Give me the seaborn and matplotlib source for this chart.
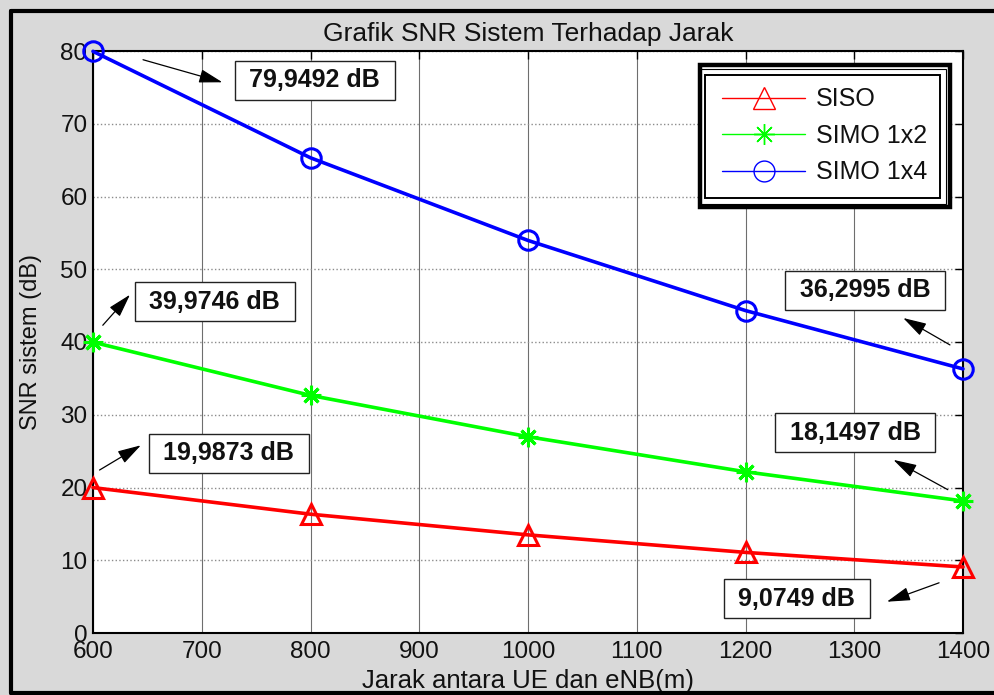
import matplotlib
matplotlib.use("Agg")
import matplotlib.pyplot as plt
from matplotlib.lines import Line2D
from matplotlib.patches import Rectangle
import pandas as pd
import seaborn as sns

# Distance between UE and eNB (m)
jarak = [600, 800, 1000, 1200, 1400]

# System SNR (dB) for each antenna configuration
snr_siso = [19.9873, 16.33, 13.49, 11.08, 9.0749]
snr_simo_1x2 = [39.9746, 32.66, 26.98, 22.16, 18.1497]
snr_simo_1x4 = [79.9492, 65.32, 53.96, 44.32, 36.2995]

series_names = ["SISO", "SIMO 1x2", "SIMO 1x4"]
series_colors = ["#ff0000", "#00ff00", "#0000ff"]

x_ticks = [600, 700, 800, 900, 1000, 1100, 1200, 1300, 1400]
y_ticks = [0, 10, 20, 30, 40, 50, 60, 70, 80]

# Value call-outs: (label, box centre, arrow tail, arrow head) in data units
callouts = [
    ("79,9492 dB", (804, 76.0), (646, 78.8), (719, 75.7)),
    ("39,9746 dB", (712, 45.5), (609, 42.3), (634, 46.5)),
    ("19,9873 dB", (725, 24.7), (606, 22.4), (644, 25.8)),
    ("36,2995 dB", (1310, 47.1), (1388, 39.6), (1345, 43.3)),
    ("18,1497 dB", (1301, 27.5), (1386, 19.7), (1336, 23.8)),
    ("9,0749 dB", (1247, 4.7), (1378, 6.9), (1330, 4.3)),
]

sns.set_theme(style="white")
plt.rcParams["font.family"] = ["Liberation Sans", "DejaVu Sans"]

bg = "#d9d9d9"
fig = plt.figure(figsize=(9.95, 6.95), dpi=100, facecolor=bg)
ax = fig.add_axes([93 / 995, 1 - 633 / 695, 870 / 995, 582 / 695])
ax.set_facecolor("white")

df = pd.DataFrame({
    "jarak": jarak * 3,
    "snr": snr_siso + snr_simo_1x2 + snr_simo_1x4,
    "sistem": [n for n in series_names for _ in jarak],
})

marker_styles = {"SISO": "^", "SIMO 1x2": (8, 2, 0), "SIMO 1x4": "o"}
marker_sizes = {"SISO": 15, "SIMO 1x2": 14, "SIMO 1x4": 14}

for name, color in zip(series_names, series_colors):
    sub = df[df["sistem"] == name]
    sns.lineplot(
        data=sub, x="jarak", y="snr", ax=ax, color=color, linewidth=2.6,
        marker=marker_styles[name], markersize=marker_sizes[name],
        markerfacecolor="none", markeredgecolor=color, markeredgewidth=2.2,
        legend=False, zorder=4, clip_on=False,
    )

ax.set_xlim(600, 1400)
ax.set_ylim(0, 80)
ax.set_xticks(x_ticks)
ax.set_yticks(y_ticks)
ax.tick_params(axis="both", which="both", direction="in", length=6, width=1,
               top=True, right=True, labelsize=17.5, colors="black")
ax.tick_params(axis="x", pad=6)
ax.tick_params(axis="y", pad=4)
for lbl in ax.get_xticklabels() + ax.get_yticklabels():
    lbl.set_color("#111111")

# MATLAB-like grid
ax.xaxis.grid(True, color="#6e6e6e", linewidth=0.8, linestyle="-")
ax.yaxis.grid(True, color="#8c8c8c", linewidth=1.0, linestyle=":")
ax.set_axisbelow(True)
for s in ax.spines.values():
    s.set_color("black")
    s.set_linewidth(1.5)

ax.set_title("Grafik SNR Sistem Terhadap Jarak", fontsize=19, color="#111111", pad=7)
ax.set_xlabel("Jarak antara UE dan eNB(m)", fontsize=18.5, color="#111111", labelpad=4)
ax.set_ylabel("SNR sistem (dB)", fontsize=17, color="#111111", labelpad=13)

for text, box_xy, tail, head in callouts:
    ax.annotate("", xy=head, xytext=tail,
                arrowprops=dict(arrowstyle="-|>,head_length=1.2,head_width=0.35",
                                color="black", lw=0.9, shrinkA=0, shrinkB=0),
                zorder=6)
    ax.text(box_xy[0], box_xy[1], " " + text + " ", fontsize=18, fontweight="bold",
            ha="center", va="center", color="#111111", zorder=7,
            bbox=dict(boxstyle="square,pad=0.3", facecolor="white",
                      edgecolor="#222222", linewidth=1.0))

handles = [
    Line2D([], [], color=c, linewidth=1.0, marker=marker_styles[n],
           markersize=marker_sizes[n] + 1, markerfacecolor="none",
           markeredgecolor=c, markeredgewidth=1.0)
    for n, c in zip(series_names, series_colors)
]
leg = ax.legend(handles, series_names, loc="upper right",
                bbox_to_anchor=(0.985, 0.976), fontsize=18, frameon=True,
                fancybox=False, handlelength=3.3, handletextpad=0.45,
                borderpad=0.9, labelspacing=0.5, borderaxespad=0)
leg.get_frame().set_edgecolor("black")
leg.get_frame().set_linewidth(3.2)
leg.get_frame().set_facecolor("white")
leg.get_frame().set_alpha(1)
leg.set_zorder(8)
for t in leg.get_texts():
    t.set_color("#111111")

# Inner rules of the legend frame
for (x0, y0, x1, y1), lw in [((699, 69, 946, 204), 0.8), ((705, 75, 940, 198), 1.4)]:
    ax.add_artist(Rectangle(((x0 - 93) / 870, (633 - y1) / 582),
                            (x1 - x0) / 870, (y1 - y0) / 582,
                            transform=ax.transAxes, fill=False,
                            edgecolor="black", linewidth=lw, zorder=9))

# Outer figure border (open on the right)
for xs, ys in [([11 / 995, 1.0], [1 - 11 / 695] * 2),
               ([11 / 995, 1.0], [1 - 693 / 695] * 2),
               ([11 / 995] * 2, [1 - 11 / 695, 1 - 693 / 695])]:
    fig.add_artist(Line2D(xs, ys, transform=fig.transFigure, color="black",
                          linewidth=3.0))

fig.savefig("out.png", dpi=100, facecolor=bg)
